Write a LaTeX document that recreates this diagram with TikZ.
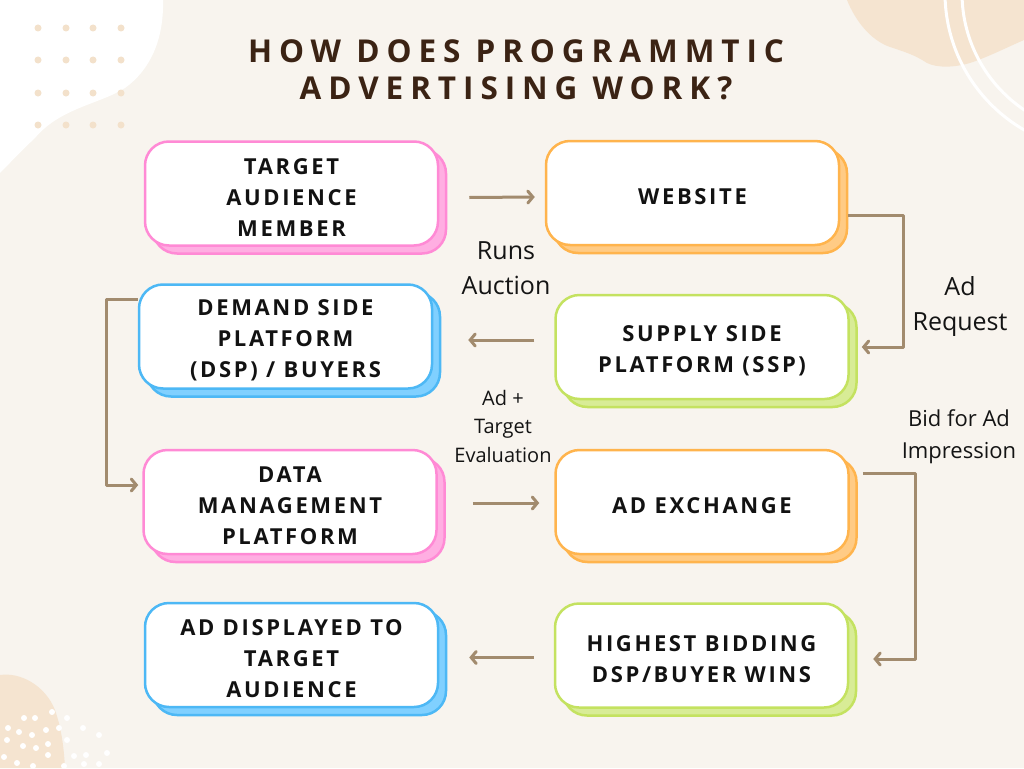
\documentclass[tikz,border=0pt]{standalone}
\usepackage{fontspec}
\setmainfont{Open Sans}
\newfontfamily\boxfont[LetterSpace=12]{Open Sans}
\newfontfamily\titlefont[LetterSpace=22]{Open Sans}
\usetikzlibrary{arrows.meta,shadows}
\newcommand\topstrut{\rule{0pt}{23.5pt}}
\definecolor{bg}{HTML}{F8F4EE}
\definecolor{blob}{HTML}{F5E4D0}
\definecolor{dotc}{HTML}{F3E1CB}
\definecolor{titlec}{HTML}{3B2314}
\definecolor{arrc}{HTML}{A28B6E}
\definecolor{pinkB}{HTML}{FF8AD5}
\definecolor{pinkS}{HTML}{FFAEE2}
\definecolor{orB}{HTML}{FFB44D}
\definecolor{orS}{HTML}{FFCB85}
\definecolor{blB}{HTML}{4DB8F5}
\definecolor{blS}{HTML}{80D0FF}
\definecolor{grB}{HTML}{C4E260}
\definecolor{grS}{HTML}{D8EC96}
\tikzset{
  card/.style 2 args={draw=#1, fill=white, line width=2.5pt, rounded corners=24pt,
    minimum width=293pt, minimum height=104pt, align=center, text=black!93,
    font=\boxfont\bfseries\fontsize{22}{31}\selectfont,
    general shadow={fill=#2, draw=#1, line width=2.5pt, shadow xshift=8pt, shadow yshift=-8pt}},
  arr/.style={draw=arrc, line width=3pt, line join=round,
    -{Straight Barb[length=5pt,width=12pt,line cap=round]}},
  lbl/.style={align=center, text=black!92},
}
\begin{document}
\begin{tikzpicture}[x=1pt,y=-1pt]
\useasboundingbox (0,0) rectangle (1024,768);
\fill[bg] (0,0) rectangle (1024,768);
% top-left white blob
\fill[white] (0,0) -- (163,0) .. controls (164,40) and (150,70) .. (125,88)
  .. controls (100,104) and (60,108) .. (35,138) .. controls (20,152) and (8,165) .. (0,173) -- cycle;
\foreach \x in {38,66,93,121}
  \foreach \y in {28,60,93,125}
    \fill[dotc] (\x,\y) circle (3.5);
% top-right blob and arcs
\begin{scope}
\clip (0,0) rectangle (1024,768);
\fill[blob] (847,0) .. controls (855,20) and (870,40) .. (890,47)
  .. controls (905,52) and (915,55) .. (927,63) .. controls (937,68) and (955,68) .. (973,62)
  .. controls (990,56) and (1010,46) .. (1024,40) -- (1024,0) -- cycle;
\draw[white, line width=3pt] (1103,-7) circle (158);
\draw[white, line width=3pt] (1103,-7) circle (141);
% bottom-left blob
\fill[blob] (0,675) .. controls (20,672) and (45,685) .. (55,710) .. controls (62,730) and (64,750) .. (65,768) -- (0,768) -- cycle;
\foreach \p in {(24,718),(35,718),(52,712),(67,718),(8,728),(19,732),(32,735),(46,730),(59,728),(7,740),(23,746),(36,748),(48,744),(67,740),(83,728),(99,735),(86,755),(107,753),(99,764),(74,756),(48,755),(4,757),(17,763),(33,766),(64,766),(84,764)}
  \fill[white] \p circle (3);
\end{scope}
% title
\node[font=\titlefont\bfseries\fontsize{31.5}{37}\selectfont, text=titlec, align=center] (title) at (516,70) {HOW DOES PROGRAMMTIC\\ADVERTISING WORK?};
% cards
\node[card={pinkB}{pinkS}] (tam) at (291.5,193.5) {\topstrut TARGET\\AUDIENCE\\MEMBER};
\node[card={orB}{orS}] (web) at (692.5,193) {\topstrut WEBSITE};
\node[card={blB}{blS}] (dsp) at (285.5,336.5) {\topstrut DEMAND SIDE\\PLATFORM\\(DSP) / BUYERS};
\node[card={grB}{grS}] (ssp) at (702,347) {\topstrut SUPPLY SIDE\\PLATFORM (SSP)};
\node[card={pinkB}{pinkS}] (dmp) at (290,502) {\topstrut DATA\\MANAGEMENT\\PLATFORM};
\node[card={orB}{orS}] (adx) at (702,502) {\topstrut AD EXCHANGE};
\node[card={blB}{blS}] (adt) at (291.5,655) {\topstrut AD DISPLAYED TO\\TARGET\\AUDIENCE};
\node[card={grB}{grS}] (hbw) at (701.5,655.5) {\topstrut HIGHEST BIDDING\\DSP/BUYER WINS};
% labels
\node[lbl, font=\fontsize{25}{35}\selectfont] (runs) at (506,268) {Runs\\Auction};
\node[lbl, font=\fontsize{25}{35}\selectfont] (req) at (960,307) {Ad\\Request};
\node[lbl, font=\fontsize{20}{28.5}\selectfont] (eval) at (503,426) {Ad +\\Target\\Evaluation};
\node[lbl, font=\fontsize{22}{32}\selectfont] (bid) at (959,437) {Bid for Ad\\Impression};
% connectors
\draw[arr] ([xshift=30pt,yshift=-4pt]tam.east) -- ([xshift=-10pt,yshift=-4pt]web.west);
\draw[arr] ([xshift=8pt,yshift=-22pt]web.east) -- ++(55,0) |- ([xshift=12pt]ssp.east);
\draw[arr] ([xshift=-20pt,yshift=7pt]ssp.west) -- ([xshift=35pt,yshift=-3.5pt]dsp.east);
\draw[arr] ([yshift=37.5pt]dsp.west) -- ++(-31,0) |- ([xshift=-4pt,yshift=17pt]dmp.west);
\draw[arr] ([xshift=35pt,yshift=-1pt]dmp.east) -- ([xshift=-15pt,yshift=-1pt]adx.west);
\draw[arr] ([xshift=13pt,yshift=29pt]adx.east) -- ++(53,0) |- ([xshift=24pt,yshift=-3.5pt]hbw.east);
\draw[arr] ([xshift=-20pt,yshift=-2pt]hbw.west) -- ([xshift=30pt,yshift=-2.5pt]adt.east);
\end{tikzpicture}
\end{document}
